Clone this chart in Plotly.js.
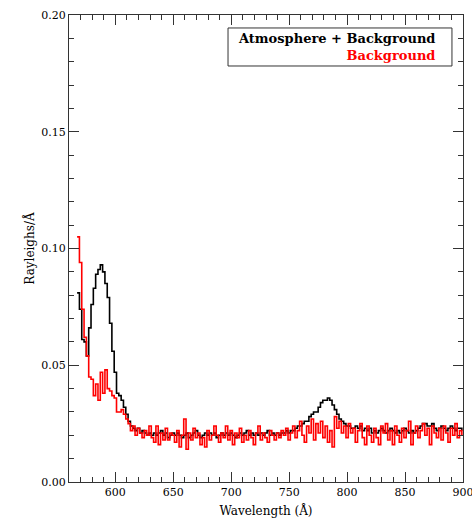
<!DOCTYPE html>
<html>
<head>
<meta charset="utf-8">
<script src="https://cdn.plot.ly/plotly-3.0.1.min.js"></script>
<style>html,body{margin:0;padding:0;background:#fff;}#chart{width:472px;height:518px;}</style>
</head>
<body>
<div id="chart"></div>
<script>
// Bin start wavelengths (Å)
const wavelength = [
567,569,571,573,575,577,579,581,583,585,
587,589,591,593,595,597,599,601,603,605,
607,609,611,613,615,617,619,621,623,625,
627,629,631,633,635,637,639,641,643,645,
647,649,651,653,655,657,659,661,663,665,
667,669,671,673,675,677,679,681,683,685,
687,689,691,693,695,697,699,701,703,705,
707,709,711,713,715,717,719,721,723,725,
727,729,731,733,735,737,739,741,743,745,
747,749,751,753,755,757,759,761,763,765,
767,769,771,773,775,777,779,781,783,785,
787,789,791,793,795,797,799,801,803,805,
807,809,811,813,815,817,819,821,823,825,
827,829,831,833,835,837,839,841,843,845,
847,849,851,853,855,857,859,861,863,865,
867,869,871,873,875,877,879,881,883,885,
887,889,891,893,895,897,899
];
// Atmosphere + Background (Rayleighs/Å)
const atmBackground = [
0.081,0.074,0.061,0.060,0.054,0.066,0.076,0.083,0.089,0.091,
0.093,0.090,0.085,0.079,0.068,0.056,0.047,0.038,0.037,0.035,
0.032,0.029,0.026,0.024,0.023,0.022,0.023,0.021,0.022,0.021,
0.020,0.021,0.020,0.021,0.020,0.021,0.022,0.020,0.021,0.019,
0.020,0.021,0.020,0.021,0.020,0.019,0.020,0.021,0.019,0.020,
0.021,0.022,0.020,0.019,0.020,0.021,0.020,0.021,0.020,0.021,
0.019,0.020,0.021,0.020,0.021,0.020,0.021,0.020,0.019,0.020,
0.021,0.020,0.021,0.022,0.020,0.021,0.020,0.021,0.020,0.021,
0.020,0.021,0.022,0.020,0.021,0.020,0.021,0.020,0.021,0.021,
0.022,0.021,0.022,0.022,0.023,0.024,0.024,0.025,0.026,0.026,
0.028,0.029,0.030,0.030,0.032,0.034,0.035,0.035,0.036,0.035,
0.033,0.031,0.029,0.027,0.026,0.025,0.024,0.024,0.023,0.023,
0.024,0.023,0.024,0.022,0.023,0.022,0.023,0.021,0.022,0.021,
0.022,0.023,0.022,0.021,0.022,0.023,0.022,0.021,0.022,0.021,
0.022,0.023,0.022,0.021,0.022,0.021,0.022,0.023,0.024,0.025,
0.025,0.024,0.024,0.025,0.023,0.022,0.023,0.024,0.023,0.022,
0.023,0.024,0.023,0.022,0.023,0.023,0.022
];
// Background only (Rayleighs/Å)
const background = [
0.105,0.094,0.074,0.062,0.054,0.045,0.044,0.037,0.042,0.035,
0.047,0.038,0.048,0.040,0.039,0.037,0.036,0.030,0.030,0.031,
0.029,0.027,0.025,0.022,0.024,0.020,0.023,0.021,0.019,0.022,
0.020,0.024,0.019,0.017,0.024,0.016,0.021,0.018,0.023,0.018,
0.021,0.020,0.017,0.022,0.015,0.020,0.027,0.014,0.021,0.018,
0.023,0.019,0.021,0.016,0.019,0.015,0.022,0.018,0.020,0.024,
0.020,0.017,0.021,0.019,0.024,0.018,0.022,0.016,0.021,0.019,
0.023,0.017,0.020,0.018,0.022,0.019,0.016,0.021,0.024,0.018,
0.021,0.019,0.017,0.022,0.020,0.018,0.021,0.019,0.022,0.020,
0.023,0.018,0.021,0.024,0.019,0.022,0.026,0.020,0.017,0.024,
0.021,0.027,0.018,0.025,0.021,0.026,0.019,0.024,0.017,0.022,
0.015,0.028,0.023,0.026,0.021,0.024,0.019,0.025,0.021,0.023,
0.017,0.022,0.025,0.019,0.016,0.024,0.020,0.017,0.023,0.019,
0.016,0.024,0.021,0.025,0.018,0.022,0.016,0.024,0.020,0.017,
0.023,0.019,0.022,0.026,0.016,0.021,0.024,0.019,0.022,0.025,
0.020,0.023,0.016,0.024,0.021,0.019,0.023,0.018,0.024,0.021,
0.017,0.023,0.020,0.025,0.019,0.022,0.020
];
const xTicks = [600, 650, 700, 750, 800, 850, 900];
const yTicks = [0.00, 0.05, 0.10, 0.15, 0.20];
const legendLabels = ['Atmosphere + Background', 'Background'];
const legendColors = ['#000000', '#ff0000'];

const serif = 'DejaVu Serif, Liberation Serif, serif';
const axisColor = '#333';

const traces = [
  {x: wavelength, y: atmBackground, type: 'scatter', mode: 'lines',
   line: {shape: 'hv', color: legendColors[0], width: 1.6}, hoverinfo: 'skip', showlegend: false},
  {x: wavelength, y: background, type: 'scatter', mode: 'lines',
   line: {shape: 'hv', color: legendColors[1], width: 1.6}, hoverinfo: 'skip', showlegend: false}
];

const legendText = legendLabels
  .map((t, i) => '<b><span style="color:' + legendColors[i] + '">' + t + '</span></b>')
  .join('<br>');

const layout = {
  width: 472, height: 518,
  margin: {l: 69, r: 9, t: 15, b: 36},
  paper_bgcolor: '#ffffff', plot_bgcolor: '#ffffff',
  font: {family: serif, size: 11, color: '#000'},
  showlegend: false,
  xaxis: {
    range: [560, 900], tickvals: xTicks, ticktext: xTicks.map(String),
    ticklabeloverflow: 'allow',
    ticks: 'inside', ticklen: 10, tickwidth: 1, tickcolor: axisColor,
    minor: {dtick: 10, tick0: 560, ticks: 'inside', ticklen: 5, tickwidth: 1, tickcolor: axisColor, showgrid: false},
    showline: true, linecolor: axisColor, linewidth: 1, mirror: 'ticks',
    showgrid: false, zeroline: false,
    tickfont: {family: serif, size: 11, color: '#000'},
    title: {text: 'Wavelength (Å)', font: {family: serif, size: 12, color: '#000'}, standoff: 8}
  },
  yaxis: {
    range: [0, 0.2], tickvals: yTicks, ticktext: yTicks.map(v => v.toFixed(2)),
    ticks: 'inside', ticklen: 10, tickwidth: 1, tickcolor: axisColor,
    minor: {dtick: 0.01, tick0: 0, ticks: 'inside', ticklen: 5, tickwidth: 1, tickcolor: axisColor, showgrid: false},
    showline: true, linecolor: axisColor, linewidth: 1, mirror: 'ticks',
    showgrid: false, zeroline: false,
    tickfont: {family: serif, size: 11, color: '#000'},
    title: {text: 'Rayleighs/Å', font: {family: serif, size: 12, color: '#000'}, standoff: 4}
  },
  shapes: [
    {type: 'rect', xref: 'paper', yref: 'paper', x0: 0.4036, x1: 0.972, y0: 0.8908, y1: 0.9722,
     line: {color: '#333', width: 1}, fillcolor: 'rgba(0,0,0,0)'}
  ],
  annotations: [
    {xref: 'paper', yref: 'paper', x: 0.934, y: 0.9315, xanchor: 'right', yanchor: 'middle',
     align: 'right', text: legendText, showarrow: false,
     font: {family: serif, size: 13, color: '#000'}}
  ]
};

Plotly.newPlot('chart', traces, layout, {displayModeBar: false, staticPlot: true});
</script>
</body>
</html>
